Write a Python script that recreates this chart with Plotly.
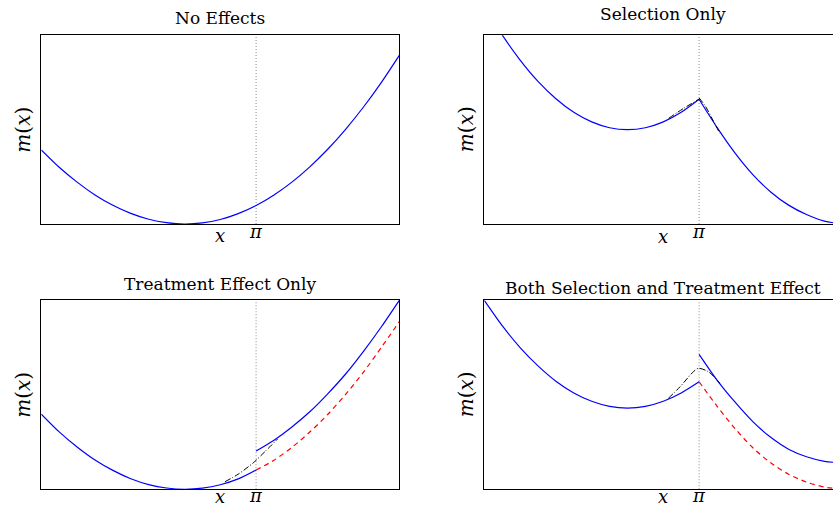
import plotly.graph_objects as go

# ---------------- data ----------------
CUTOFF = 0.6
CUTOFF_LABEL = "<i>π</i>"
TITLES = ["No Effects", "Selection Only", "Treatment Effect Only",
          "Both Selection and Treatment Effect"]

X_ALL = [0.00, 0.05, 0.10, 0.15, 0.20, 0.25, 0.30, 0.35, 0.40, 0.45, 0.50,
         0.55, 0.60, 0.65, 0.70, 0.75, 0.80, 0.85, 0.90, 0.95, 1.00]
X_LEFT = [0.00, 0.05, 0.10, 0.15, 0.20, 0.25, 0.30, 0.35, 0.40, 0.45, 0.50,
          0.55, 0.60]
X_RIGHT = [0.60, 0.65, 0.70, 0.75, 0.80, 0.85, 0.90, 0.95, 1.00]

# Panel 1: No Effects
NOEFF_Y = [0.393, 0.301, 0.222, 0.154, 0.099, 0.056, 0.025, 0.007, 0.000,
           0.006, 0.024, 0.055, 0.098, 0.154, 0.222, 0.303, 0.396, 0.502,
           0.620, 0.751, 0.894]

# Panel 2: Selection Only
SEL_LEFT = [1.156, 1.002, 0.869, 0.756, 0.664, 0.592, 0.541, 0.510, 0.500,
            0.510, 0.541, 0.592, 0.661]
SEL_RIGHT = [0.661, 0.512, 0.377, 0.262, 0.170, 0.100, 0.050, 0.015, 0.000]
SEL_FITL_X = [0.515, 0.556, 0.600]
SEL_FITL_Y = [0.560, 0.612, 0.662]
SEL_FITR_X = [0.600, 0.617, 0.640, 0.658]
SEL_FITR_Y = [0.668, 0.626, 0.545, 0.480]

# Panel 3: Treatment Effect Only
TE_LEFT = [0.398, 0.304, 0.224, 0.155, 0.100, 0.056, 0.025, 0.007, 0.000,
           0.006, 0.024, 0.055, 0.102]
TE_RIGHT = [0.203, 0.260, 0.330, 0.410, 0.505, 0.610, 0.730, 0.860, 1.000]
TE_CF = [0.102, 0.154, 0.222, 0.303, 0.396, 0.502, 0.620, 0.751, 0.887]
TE_FIT_X = [0.513, 0.550, 0.592, 0.625, 0.660]
TE_FIT_Y = [0.040, 0.080, 0.140, 0.200, 0.266]

# Panel 4: Both Selection and Treatment Effect
BOTH_LEFT = [1.000, 0.866, 0.750, 0.653, 0.572, 0.510, 0.466, 0.439, 0.430,
             0.439, 0.466, 0.510, 0.569]
BOTH_RIGHT = [0.714, 0.578, 0.462, 0.358, 0.275, 0.212, 0.172, 0.148, 0.140]
BOTH_CF = [0.569, 0.440, 0.322, 0.220, 0.140, 0.080, 0.038, 0.012, 0.000]
BOTH_FIT_X = [0.514, 0.547, 0.584, 0.598, 0.626, 0.658]
BOTH_FIT_Y = [0.481, 0.543, 0.622, 0.640, 0.622, 0.561]

# ---------------- styling ----------------
W, H = 833, 507
FONT = "DejaVu Serif"
BLUE = "#0000ff"
RED = "#ff0000"
BLACK = "#000000"


def px_x(p):
    return p / W


def px_y(p):
    return 1 - p / H


fig = go.Figure()


def line(x, y, ax, color, dash="solid", width=1.2):
    fig.add_trace(go.Scatter(
        x=x, y=y, mode="lines", xaxis="x" + ax, yaxis="y" + ax,
        line=dict(color=color, dash=dash, width=width, shape="spline",
                  smoothing=0.8),
        hoverinfo="skip", showlegend=False))


DASH = "5px,4px"
DASHDOT = "6px,2px,1px,2px"

# panel 1
line(X_ALL, NOEFF_Y, "", BLUE)
# panel 2
line(X_LEFT, SEL_LEFT, "2", BLUE)
line(X_RIGHT, SEL_RIGHT, "2", BLUE)
line(SEL_FITL_X, SEL_FITL_Y, "2", BLACK, DASHDOT, 1.0)
line(SEL_FITR_X, SEL_FITR_Y, "2", BLACK, DASHDOT, 1.0)
# panel 3
line(X_LEFT, TE_LEFT, "3", BLUE)
line(X_RIGHT, TE_RIGHT, "3", BLUE)
line(X_RIGHT, TE_CF, "3", RED, DASH)
line(TE_FIT_X, TE_FIT_Y, "3", BLACK, DASHDOT, 1.0)
# panel 4
line(X_LEFT, BOTH_LEFT, "4", BLUE)
line(X_RIGHT, BOTH_RIGHT, "4", BLUE)
line(X_RIGHT, BOTH_CF, "4", RED, DASH)
line(BOTH_FIT_X, BOTH_FIT_Y, "4", BLACK, DASHDOT, 1.0)

# panel geometry (pixels)
LEFT_X = (41.3, 399.3)
RIGHT_X = (484.3, 833.0)
RIGHT_XMAX = (833.0 - 484.3) / 358.0
TOP_Y = (35.3, 224.0)
BOT_Y = (300.3, 489.3)

panels = [
    ("", LEFT_X, TOP_Y, [0, 1], True),
    ("2", RIGHT_X, TOP_Y, [0, RIGHT_XMAX], False),
    ("3", LEFT_X, BOT_Y, [0, 1], True),
    ("4", RIGHT_X, BOT_Y, [0, RIGHT_XMAX], False),
]

layout = {}
for ax, (x0, x1), (y0, y1), xr, mirror_y in panels:
    layout["xaxis" + ax] = dict(
        domain=[px_x(x0), px_x(x1)], range=xr, anchor="y" + ax,
        showline=True, linecolor="black", linewidth=1.4, mirror=True,
        showgrid=False, zeroline=False, ticks="", automargin=False,
        showticklabels=False, fixedrange=True)
    layout["yaxis" + ax] = dict(
        domain=[px_y(y1), px_y(y0)], range=[0, 1], anchor="x" + ax,
        showline=True, linecolor="black", linewidth=1.4, mirror=mirror_y,
        showgrid=False, zeroline=False, ticks="", showticklabels=False,
        automargin=False, fixedrange=True)

fig.update_layout(**layout)

# vertical dotted line at cutoff
for ax, _, _, _, _ in panels:
    fig.add_shape(type="line", x0=CUTOFF, x1=CUTOFF, y0=0, y1=1,
                  xref="x" + ax, yref="y" + ax + " domain",
                  line=dict(color="#a0a0a0", width=1.2, dash="1px,2px"),
                  layer="below")

annotations = []
# titles (cap-centre y positions in px)
title_pos = [("", 18.3), ("2", 14.0), ("3", 284.0), ("4", 288.0)]
for (ax, ypx), text in zip(title_pos, TITLES):
    annotations.append(dict(
        text=text, xref="x" + ax, x=0.5, yref="paper", y=px_y(ypx),
        xanchor="center", yanchor="middle", showarrow=False,
        font=dict(family=FONT, size=17, color="black")))
# cutoff tick label (pi) below each axis
for ax, ypx in [("", 231.5), ("2", 231.5), ("3", 495.0), ("4", 495.0)]:
    annotations.append(dict(
        text=CUTOFF_LABEL, xref="x" + ax, x=CUTOFF, yref="paper",
        y=px_y(ypx), xanchor="center", yanchor="middle", showarrow=False,
        font=dict(family=FONT, size=18, color="black")))
# x labels
for ax, ypx in [("", 236.0), ("2", 237.0), ("3", 496.0), ("4", 496.0)]:
    annotations.append(dict(
        text="<i>x</i>", xref="x" + ax, x=0.5, yref="paper", y=px_y(ypx),
        xanchor="center", yanchor="middle", showarrow=False,
        font=dict(family=FONT, size=18, color="black")))
# y labels
for xpx, (y0, y1) in [(23.0, TOP_Y), (465.5, TOP_Y), (23.0, BOT_Y), (465.5, BOT_Y)]:
    annotations.append(dict(
        text="<i>m</i>(<i>x</i>)", xref="paper", x=px_x(xpx), yref="paper",
        y=px_y((y0 + y1) / 2), xanchor="center", yanchor="middle",
        textangle=-90, showarrow=False,
        font=dict(family=FONT, size=20, color="black")))

fig.update_layout(
    annotations=annotations,
    width=W, height=H, autosize=False,
    margin=dict(l=0, r=0, t=0, b=0, autoexpand=False),
    paper_bgcolor="white", plot_bgcolor="white",
    showlegend=False,
)

fig.write_html(
    "out.html", config={"displayModeBar": False},
    post_script="document.body.style.margin='0px';"
                "document.body.style.overflow='hidden';")
